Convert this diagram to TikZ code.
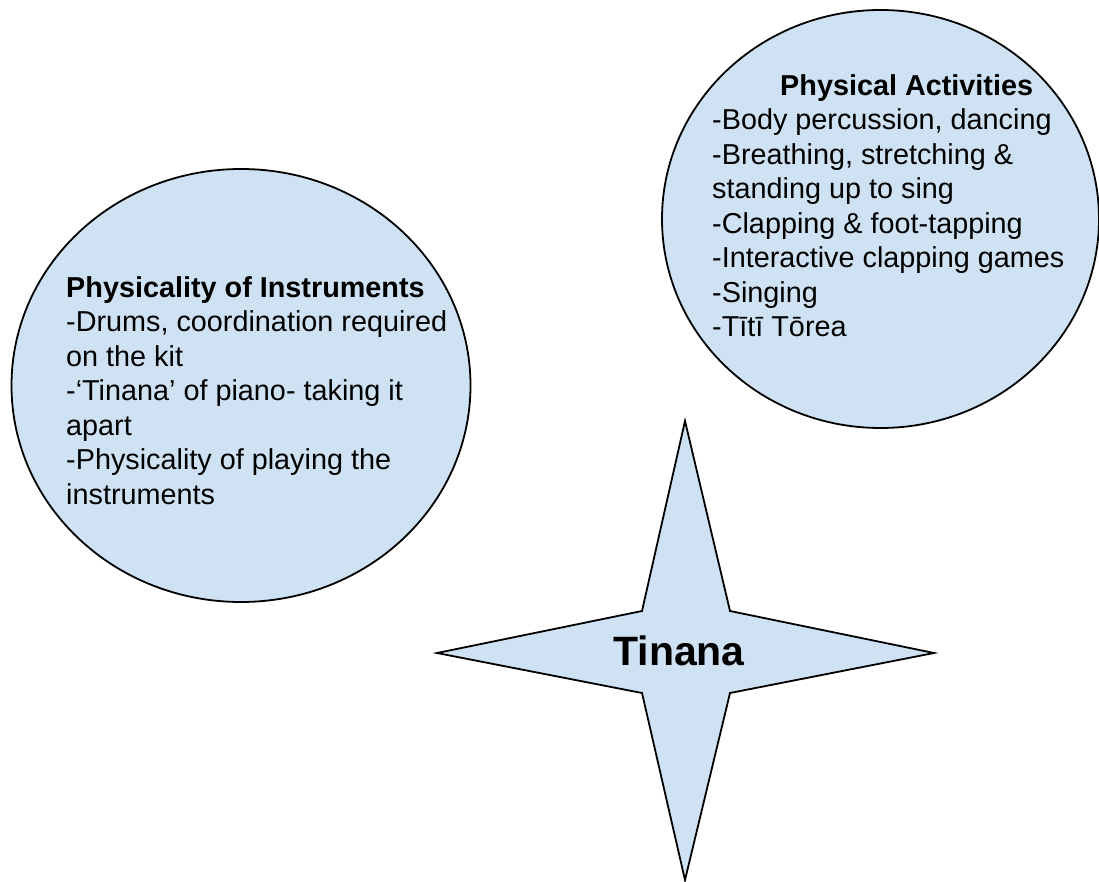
\documentclass[tikz,border=0pt]{standalone}
\usepackage{fontspec}
\setmainfont{Liberation Sans}
\usetikzlibrary{shapes.geometric}
\definecolor{paleblue}{HTML}{CFE2F3}
\tikzset{
  bubble/.style={ellipse, draw=black, line width=1.8pt, fill=paleblue, inner sep=0pt},
  notes/.style={anchor=north west, inner sep=0pt, align=left,
    font=\fontsize{28.8}{34.5}\selectfont, text=black},
  starshape/.style={draw=black, line width=1.8pt, fill=paleblue, line join=miter}
}
\begin{document}
\begin{tikzpicture}[x=1pt,y=-1pt]
\useasboundingbox (0,0) rectangle (1099,882);

% left bubble: instruments
\node[bubble, minimum width=459pt, minimum height=433pt] (instr) at (241,385.5) {};
\node[notes] (instrtext) at (66,276.4) {\textbf{Physicality of Instruments}\\
-Drums, coordination required\\
on the kit\\
-‘Tinana’ of piano- taking it\\
apart\\
-Physicality of playing the\\
instruments};

% right bubble: activities
\node[bubble, minimum width=437pt, minimum height=418pt] (activ) at (880.5,219) {};
\node[notes] (activtext) at (712,74.4) {\hspace*{68pt}\textbf{Physical Activities}\\
-Body percussion, dancing\\
-Breathing, stretching \&\\
standing up to sing\\
-Clapping \& foot-tapping\\
-Interactive clapping games\\
-Singing\\
-Tītī Tōrea};

% four-pointed star
\coordinate (sN) at (685,421);
\coordinate (sNE) at (730,611);
\coordinate (sE) at (934,653);
\coordinate (sSE) at (730,693);
\coordinate (sS) at (685,880);
\coordinate (sSW) at (642,693);
\coordinate (sW) at (437,653);
\coordinate (sNW) at (642,611);
\draw[starshape] (sN) -- (sNE) -- (sE) -- (sSE) -- (sS) -- (sSW) -- (sW) -- (sNW) -- cycle;
\node[anchor=base, inner sep=0pt, font=\fontsize{41}{45}\selectfont\bfseries] (core) at (679,665) {Tinana};
\end{tikzpicture}
\end{document}
